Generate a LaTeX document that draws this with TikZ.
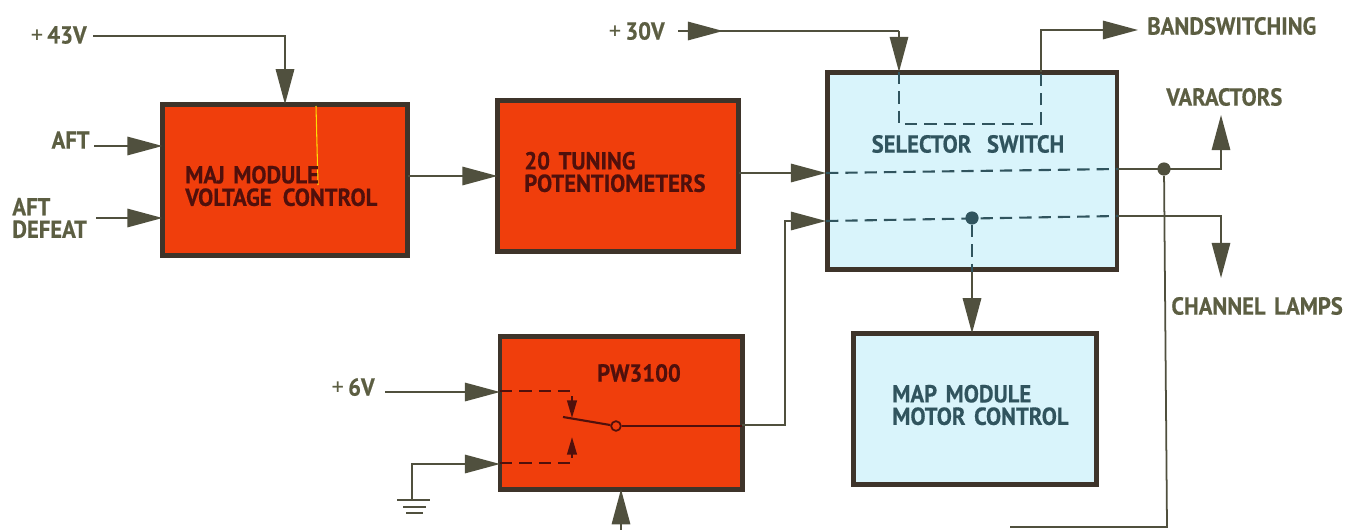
\documentclass[tikz,border=0pt]{standalone}
\usepackage{fontspec}
\setmainfont{PT Sans}[BoldFeatures={FakeStretch=0.92,FakeBold=0.5},WordSpace=1.5]
\usepackage{xcolor}
\definecolor{blkorange}{RGB}{240,62,12}
\definecolor{blkblue}{RGB}{217,244,251}
\definecolor{blkedge}{RGB}{62,52,42}
\definecolor{blkwire}{RGB}{80,80,62}
\definecolor{lblolive}{RGB}{92,94,66}
\definecolor{lblred}{RGB}{80,16,12}
\definecolor{lblblue}{RGB}{48,84,94}
\usetikzlibrary{arrows.meta,positioning,calc}

\begin{document}
\begin{tikzpicture}[x=0.02cm, y=-0.02cm,
  obox/.style={rectangle, draw=blkedge, line width=2.8pt, fill=blkorange, outer sep=0pt},
  bbox/.style={rectangle, draw=blkedge, line width=2.8pt, fill=blkblue, outer sep=0pt},
  txt/.style={font=\fontsize{14}{12.8}\selectfont\bfseries, align=left, inner sep=0pt},
  otxt/.style={txt, text=lblred},
  btxt/.style={txt, text=lblblue},
  lbl/.style={txt, text=lblolive},
  wire/.style={draw=blkwire, line width=1pt},
  farr/.style={wire, -{Triangle[length=20pt, width=10.5pt]}},
  sarr/.style={-{Triangle[length=10pt, width=5.5pt]}, draw=lblred, line width=1.2pt},
  ddash/.style={dashed, dash pattern=on 7pt off 4pt, line width=1.2pt},
  jdot/.style={circle, fill=#1, inner sep=0pt, minimum size=7.5pt}
]
\useasboundingbox (0,0) rectangle (1348,530);

% Blocks
\node[obox, minimum width=246*0.567pt, minimum height=152*0.567pt] (maj) at (285,180) {};
\node[obox, minimum width=242*0.567pt, minimum height=152*0.567pt] (tun) at (618,176) {};
\node[obox, minimum width=243*0.567pt, minimum height=153*0.567pt] (pws) at (621,413) {};
\node[bbox, minimum width=291*0.567pt, minimum height=198*0.567pt] (sel) at (972,171) {};
\node[bbox, minimum width=244*0.567pt, minimum height=152*0.567pt] (map) at (975,409) {};

% Yellow streak on the first block
\draw[yellow!80!orange, line width=0.6pt] (316,106) -- (318,185);

% Block texts
\node[otxt, anchor=west] (majt) at (185,186) {MAJ MODULE\\VOLTAGE\hspace{1.5pt} CONTROL};
\node[otxt, anchor=west] (tunt) at (524,172) {20 TUNING\\POTENTIOMETERS};
\node[otxt] (pwt) at (639,373) {PW3100};
\node[btxt] (selt) at (968,144) {SELECTOR\hspace{4pt} SWITCH};
\node[btxt, anchor=west] (mapt) at (892,405) {MAP MODULE\\MOTOR CONTROL};

% Outside labels
\node[lbl, anchor=east] (v43) at (87,35) {{\mdseries+}\,43V};
\node[lbl, anchor=east] (aft) at (90,140) {AFT};
\node[lbl, anchor=west] (afd) at (12,218) {AFT\\DEFEAT};
\node[lbl, anchor=east] (v6)  at (375,387) {{\mdseries+}\,6V};
\node[lbl, anchor=east] (v30) at (665,31) {{\mdseries+}\,30V};
\node[lbl, anchor=west] (bsw) at (1147,26) {BANDSWITCHING};
\node[lbl, anchor=west] (var) at (1166,97) {VARACTORS};
\node[lbl, anchor=west] (lmp) at (1171,306) {CHANNEL LAMPS};

% Ports and bends
\coordinate (selA) at (826,173);
\coordinate (selB) at (826,221);
\coordinate (selC) at (1118,169);
\coordinate (selD) at (1118,216);
\coordinate (gnd) at (412,500);
\node[jdot=blkwire] (jv) at (1164,169) {};
\node[jdot=lblblue] (jm) at (972,218) {};
\coordinate (arm) at (563,417);

% Inputs
\draw[farr] ($(v43.east)+(6,1)$) -| (maj.north);
\draw[farr] (94,146) -- (maj.west |- 0,146);
\draw[farr] (96,218) -- (maj.west |- 0,218);
\draw[farr] (maj.east |- tun.west) -- (tun.west);
\draw[farr] (tun.east |- selA) -- (selA);
\draw[farr] (385,392) -- (pws.west |- 0,392);
\draw[farr] (gnd) |- (pws.west |- 0,464);
\draw[farr] (621,530) -- (pws.south);
\draw[farr] (pws.east |- 0,425) -- (785,425) |- (selB);

% Ground
\draw[wire] (397,500) -- (430,500) (403,507) -- (426,507) (406,513) -- (423,513);

% Top of selector
\draw[wire] (678,31) -- (899,31);
\draw[farr] (678,31) -- (723,31);
\draw[farr] (899,31) -- (899,72);
\draw[farr] (1041,72) |- (1138,30);
\draw[wire, ddash, draw=lblblue] (899,72) -- (899,124) -- (1041,124) -- (1041,72);

% Through selector
\draw[wire, ddash, draw=lblblue] (selA) -- (selC);
\draw[wire, ddash, draw=lblblue] (selB) -- (selD);
\draw[farr] (selC) -- (1221,169) -- (1221,115);
\draw[farr] (selD) -- (1221,216) -- (1221,278);
\draw[wire, ddash, draw=lblblue] (jm) -- (972,272);
\draw[farr] (972,272) -- (map.north -| jm);
\draw[wire] (jv) -- (1167,527) -- (1010,527);

% Switch inside PW3100
\node[circle, draw=lblred, fill=blkorange, line width=1pt, inner sep=0pt, minimum size=5.5pt] (piv) at (616,426) {};
\draw[draw=lblred, line width=1.2pt] (piv) -- (pws.east |- piv);
\draw[ddash, draw=lblred] (pws.west |- 0,391) -- (572,391) -- (572,402);
\draw[sarr] (572,400) -- (572,418);
\draw[ddash, draw=lblred] (pws.west |- 0,463) -- (572,463) -- (572,453);
\draw[sarr] (572,455) -- (572,437);
\draw[draw=lblred, line width=1.2pt] (arm) -- (piv);
\end{tikzpicture}
\end{document}
